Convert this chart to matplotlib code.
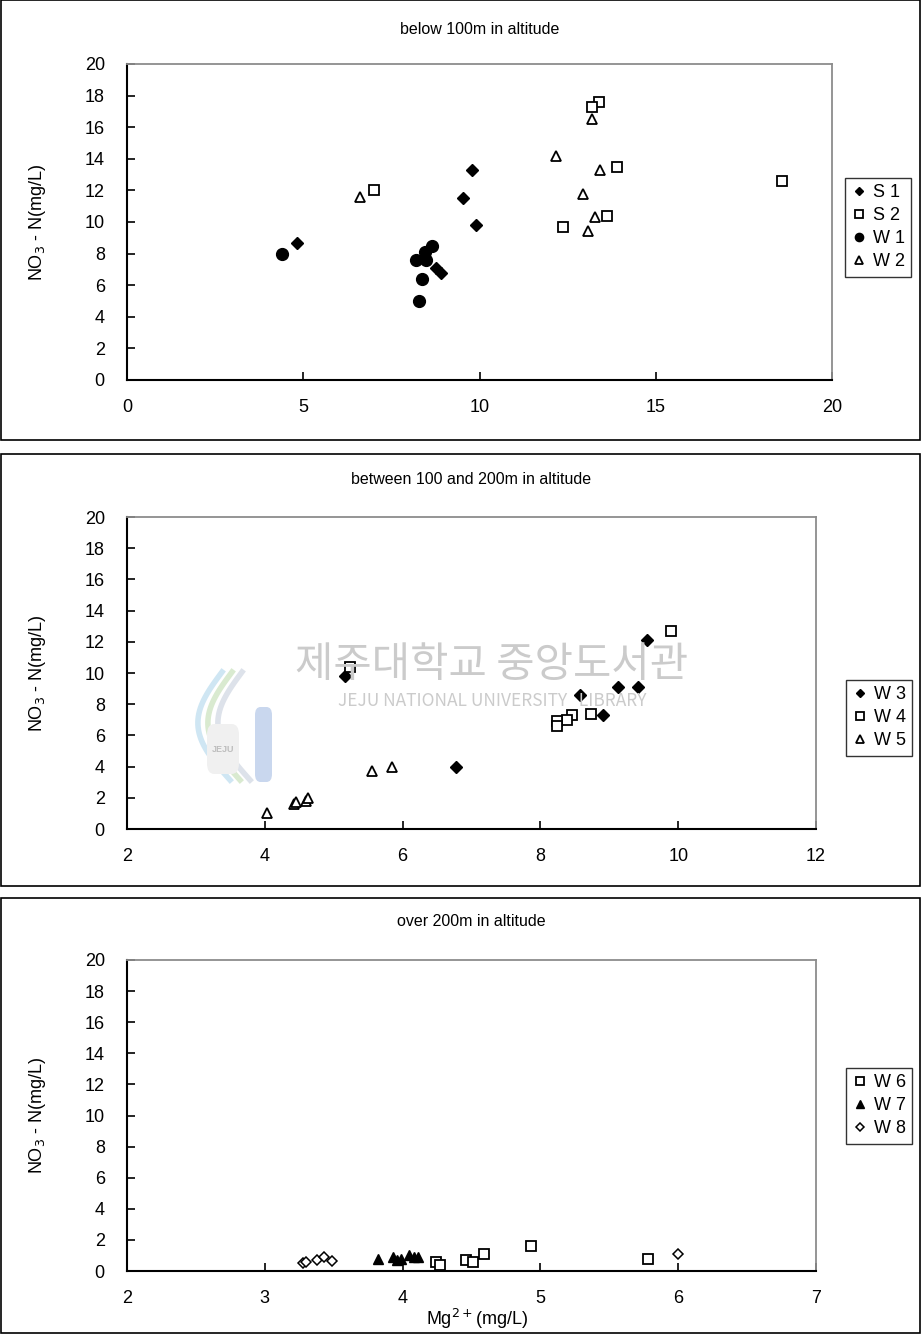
import matplotlib
matplotlib.use('Agg')
import matplotlib.pyplot as plt
from matplotlib.patches import Rectangle, FancyBboxPatch
import numpy as np

plt.rcParams['font.family'] = ['Liberation Sans', 'DejaVu Sans']

# below 100 m
s1_x = [4.83, 9.78, 9.53, 9.89, 8.76, 8.90]
s1_y = [8.7, 13.3, 11.5, 9.8, 7.1, 6.8]
s2_x = [7.01, 13.38, 13.19, 13.90, 18.58, 13.62, 12.36]
s2_y = [12.0, 17.6, 17.3, 13.5, 12.6, 10.4, 9.7]
w1_x = [4.39, 8.65, 8.46, 8.21, 8.47, 8.37, 8.27]
w1_y = [8.0, 8.5, 8.1, 7.6, 7.6, 6.4, 5.0]
w2_x = [6.62, 13.19, 12.17, 13.43, 12.93, 13.29, 13.08]
w2_y = [11.6, 16.5, 14.2, 13.3, 11.8, 10.3, 9.4]

# between 100 and 200 m
w3_x = [5.17, 6.78, 9.55, 9.13, 9.42, 8.58, 8.91]
w3_y = [9.8, 4.0, 12.1, 9.1, 9.1, 8.6, 7.3]
w4_x = [5.24, 9.89, 8.73, 8.46, 8.38, 8.24, 8.24]
w4_y = [10.4, 12.7, 7.4, 7.3, 7.0, 6.9, 6.6]
w5_x = [4.03, 4.42, 4.46, 4.60, 4.63, 5.55, 5.84]
w5_y = [1.0, 1.6, 1.7, 1.8, 2.0, 3.7, 4.0]

# over 200 m
w6_x = [4.24, 4.27, 4.46, 4.51, 4.59, 4.93, 5.78]
w6_y = [0.6, 0.4, 0.7, 0.6, 1.1, 1.6, 0.8]
w7_x = [3.82, 3.93, 3.96, 3.99, 4.05, 4.08, 4.11]
w7_y = [0.8, 0.9, 0.7, 0.8, 1.0, 0.9, 0.9]
w8_x = [3.28, 3.30, 3.38, 3.43, 3.49, 6.00]
w8_y = [0.5, 0.6, 0.7, 0.9, 0.65, 1.1]

titles = ['below 100m in altitude', 'between 100 and 200m in altitude',
          'over 200m in altitude']

fig = plt.figure(figsize=(9.22, 13.34), dpi=100)

styles = {
    'diamond': dict(marker='D', ms=6.3, mfc='black', mec='black'),
    'square': dict(marker='s', ms=7.5, mfc='white', mec='black', mew=1.3),
    'circle': dict(marker='o', ms=8.5, mfc='black', mec='black'),
    'tri': dict(marker='^', ms=7.5, mfc='white', mec='black', mew=1.3),
    'tri_f': dict(marker='^', ms=7.5, mfc='black', mec='black'),
    'open_d': dict(marker='D', ms=5.5, mfc='white', mec='black', mew=1.1),
}

H = 1334.0
W = 922.0


def fy(py):
    return 1 - py / H


panels = [
    dict(frame=(0, 440), ax=(127, 832, 64, 380), xlim=(0, 20), xt=[0, 5, 10, 15, 20],
         leg=(845, 178), title_y=30,
         series=[(s1_x, s1_y, 'diamond', 'S 1'), (s2_x, s2_y, 'square', 'S 2'),
                 (w1_x, w1_y, 'circle', 'W 1'), (w2_x, w2_y, 'tri', 'W 2')]),
    dict(frame=(454, 886), ax=(127, 816, 517, 829), xlim=(2, 12), xt=[2, 4, 6, 8, 10, 12],
         leg=(846, 680), title_y=479,
         series=[(w3_x, w3_y, 'diamond', 'W 3'), (w4_x, w4_y, 'square', 'W 4'),
                 (w5_x, w5_y, 'tri', 'W 5')]),
    dict(frame=(898, 1333), ax=(127, 816, 960, 1271), xlim=(2, 7), xt=[2, 3, 4, 5, 6, 7],
         leg=(846, 1068), title_y=922,
         series=[(w6_x, w6_y, 'square', 'W 6'), (w7_x, w7_y, 'tri_f', 'W 7'),
                 (w8_x, w8_y, 'open_d', 'W 8')]),
]

axes = []
for i, p in enumerate(panels):
    top, bot = p['frame']
    fig.patches.append(Rectangle((0.001, fy(bot)), 0.997, (bot - top) / H,
                                 transform=fig.transFigure, fill=False,
                                 edgecolor='black', linewidth=1.2))
    l, r, t, b = p['ax']
    ax = fig.add_axes([l / W, fy(b), (r - l) / W, (b - t) / H])
    ax.set_facecolor('none')
    axes.append(ax)
    for xs, ys, st, lab in p['series']:
        ax.plot(xs, ys, linestyle='none', label=lab, zorder=3, **styles[st])
    ax.set_xlim(*p['xlim'])
    ax.set_ylim(0, 20)
    ax.set_xticks(p['xt'])
    ax.set_yticks(range(0, 21, 2))
    ax.tick_params(direction='in', length=6, width=1.2, labelsize=13, pad=14)
    ax.tick_params(axis='y', pad=16)
    for side in ['left', 'bottom']:
        ax.spines[side].set_linewidth(1.5)
        ax.spines[side].set_color('black')
    for side in ['top', 'right']:
        ax.spines[side].set_linewidth(1.3)
        ax.spines[side].set_color('#8c8c8c')
    fig.text((l + r) / 2 / W, fy(p['title_y']), titles[i], ha='center', va='center',
             fontsize=11.5)
    fig.text(38 / W, fy((t + b) / 2), 'NO$_3$ - N(mg/L)', rotation=90,
             ha='center', va='center', fontsize=13)
    lx, ly = p['leg']
    leg = ax.legend(loc='upper left', bbox_to_anchor=(lx / W, fy(ly)),
                    bbox_transform=fig.transFigure, fontsize=13, markerscale=0.7,
                    frameon=True, fancybox=False, handlelength=0.8, handletextpad=0.4,
                    labelspacing=0.33, borderpad=0.35, borderaxespad=0)
    leg.get_frame().set_edgecolor('black')
    leg.get_frame().set_linewidth(1.0)

fig.text(477 / W, fy(1319), 'Mg$^{2+}$(mg/L)', ha='center', va='center', fontsize=13)

# library watermark behind the middle panel
wm = dict(ha='center', va='center', color='#cbcbcb', zorder=0,
          family=['Noto Sans CJK KR', 'DejaVu Sans'])
fig.text(492 / W, fy(666), '제주대학교 중앙도서관', fontsize=30, **wm)
fig.text(492 / W, fy(701), 'JEJU NATIONAL UNIVERSITY   LIBRARY', fontsize=12.5, **wm)

# logo: swooshes, small badge and the "J" stem
tt = np.linspace(0, 1, 40)
for dx, col in [(0, '#cfe6f3'), (10, '#d9ead0'), (20, '#dde2ea')]:
    xs = (222 + dx - 28 * np.sin(np.pi * tt) + 8 * tt) / W
    ys = fy(672 + 108 * tt)
    fig.add_artist(plt.Line2D(xs, ys, color=col, linewidth=4, zorder=0,
                              transform=fig.transFigure))
fig.patches.append(FancyBboxPatch((207 / W, fy(774)), 32 / W, 50 / H,
                                  boxstyle='round,pad=0,rounding_size=0.008',
                                  transform=fig.transFigure, facecolor='#f0f0f0',
                                  edgecolor='none', zorder=0))
fig.text(223 / W, fy(750), 'JEJU', fontsize=6.5, ha='center', va='center',
         color='#bdbdbd', zorder=0, fontweight='bold')
fig.patches.append(FancyBboxPatch((255 / W, fy(782)), 17 / W, 75 / H,
                                  boxstyle='round,pad=0,rounding_size=0.006',
                                  transform=fig.transFigure, facecolor='#c9d7ee',
                                  edgecolor='none', zorder=0))

fig.savefig('out.png', dpi=100)
